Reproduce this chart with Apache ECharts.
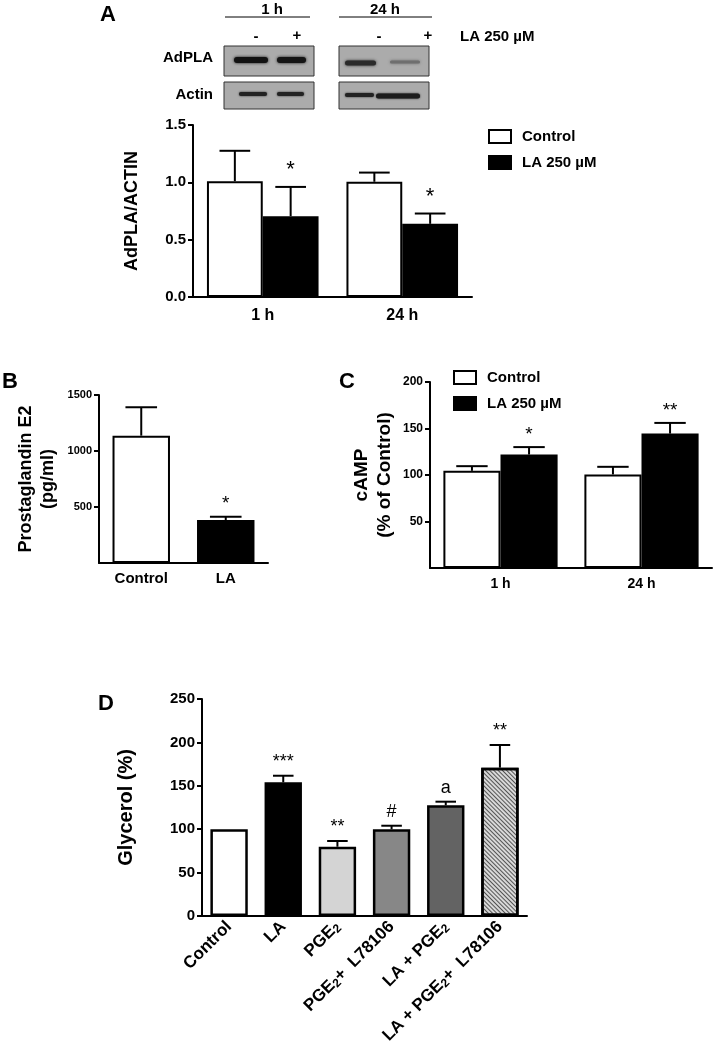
<!DOCTYPE html>
<html><head><meta charset="utf-8">
<script src="https://cdn.jsdelivr.net/npm/echarts@6/dist/echarts.min.js"></script>
<style>html,body{margin:0;padding:0;background:#fff}#c{width:714px;height:1052px}</style>
</head><body><div id="c"></div>
<script>
// ---------- Panel A ----------
const aCategories = ['1 h', '24 h'];
const aControl = [1.01, 1.005];
const aControlErr = [1.275, 1.085];
const aLA = [0.705, 0.638];
const aLAErr = [0.96, 0.728];
const aLAMarks = ['*', '*'];
// ---------- Panel B ----------
const bCategories = ['Control', 'LA'];
const bValues = [1137, 384];
const bErr = [1390, 413];
const bMarks = ['', '*'];
// ---------- Panel C ----------
const cCategories = ['1 h', '24 h'];
const cControl = [104.5, 100.6];
const cControlErr = [109.5, 108.8];
const cLA = [122, 144.5];
const cLAErr = [130, 156];
const cLAMarks = ['*', '**'];
// ---------- Panel D ----------
const dCategories = ['Control', 'LA', 'PGE{sub|2}', 'PGE{sub|2}+  L78106', 'LA + PGE{sub|2}', 'LA + PGE{sub|2}+  L78106'];
const dValues = [100, 154, 79.8, 99.9, 127.5, 170.9];
const dErr = [100, 161.6, 86.4, 104, 131.7, 197];
const dMarks = ['', '***', '**', '#', 'a', '**'];
const dColors = ['#ffffff', '#000000', '#d4d4d4', '#878787', '#636363', '#d8d8d8'];

const FONT = 'Liberation Sans, Arial, sans-serif';
const chart = echarts.init(document.getElementById('c'));

function errSeries(gi, vals, errs, marks, idx, n, gap, markGap, markSize) {
  return {
    type: 'custom', xAxisIndex: gi, yAxisIndex: gi, z: 5, silent: true,
    data: vals.map((v, i) => [i, v, errs[i]]),
    renderItem(params, api) {
      const i = api.value(0);
      const catW = api.size([1, 0])[0];
      const barW = catW * (1 - gap) / n;
      const base = api.coord([i, api.value(1)]);
      const top = api.coord([i, api.value(2)]);
      const cx = base[0] + (idx - (n - 1) / 2) * barW;
      const capW = barW * 0.55;
      const ch = [];
      if (api.value(2) > api.value(1)) {
        ch.push({type: 'line', shape: {x1: cx, y1: base[1], x2: cx, y2: top[1]}, style: {stroke: '#000', lineWidth: 2}});
        ch.push({type: 'line', shape: {x1: cx - capW / 2, y1: top[1], x2: cx + capW / 2, y2: top[1]}, style: {stroke: '#000', lineWidth: 2}});
      }
      const m = marks[params.dataIndex];
      if (m) ch.push({type: 'text', x: cx, y: top[1] - markGap, style: {text: m, fontSize: markSize, fontFamily: FONT, fill: '#000', align: 'center', verticalAlign: 'bottom'}});
      return {type: 'group', children: ch};
    }
  };
}

function yAxis(gi, max, interval, fs, name, gap, nfs, showMin, fmt) {
  return {
    type: 'value', gridIndex: gi, min: 0, max: max, interval: interval,
    axisLine: {show: true, lineStyle: {color: '#000', width: 2}},
    axisTick: {show: true, length: 5, lineStyle: {color: '#000', width: 2}},
    splitLine: {show: false},
    axisLabel: {color: '#000', fontSize: fs, fontWeight: 'bold', fontFamily: FONT, margin: 7, showMinLabel: showMin, formatter: fmt || (v => String(v))},
    name: name, nameLocation: 'middle', nameGap: gap,
    nameTextStyle: {color: '#000', fontSize: nfs, fontWeight: 'bold', fontFamily: FONT, lineHeight: nfs + 4}
  };
}
function xAxis(gi, cats, fs, margin, extra) {
  return Object.assign({
    type: 'category', gridIndex: gi, data: cats,
    axisLine: {show: true, lineStyle: {color: '#000', width: 2}},
    axisTick: {show: false},
    axisLabel: {color: '#000', fontSize: fs, fontWeight: 'bold', fontFamily: FONT, margin: margin, interval: 0}
  }, extra || {});
}

const barBase = {type: 'bar', itemStyle: {borderColor: '#000', borderWidth: 2}};

// blot graphics
const blotG = [];
function box(x, y, w, h) { blotG.push({type: 'rect', shape: {x, y, width: w, height: h}, style: {fill: '#ababab', stroke: '#333', lineWidth: 1}}); }
function band(x, y, w, h, c, blur) { blotG.push({type: 'rect', shape: {x, y: y - h / 2, width: w, height: h, r: h / 2}, style: {fill: c, shadowBlur: blur, shadowColor: c}}); }
box(224, 46, 90, 30); box(339, 46, 90, 30);
box(224, 82, 90, 27); box(339, 82, 90, 27);
band(234, 60, 34, 6, '#111', 3); band(277, 60, 29, 6, '#151515', 3);
band(345, 63, 31, 5, '#2a2a2a', 3); band(390, 62, 30, 3, '#6e6e6e', 3);
band(239, 94, 28, 4, '#222', 2); band(277, 94, 27, 4, '#222', 2);
band(345, 95, 29, 4, '#222', 2); band(376, 96, 44, 5, '#1c1c1c', 2);

function txt(x, y, t, fs, align) {
  return {type: 'text', x, y, style: {text: t, fontSize: fs, fontWeight: 'bold', fontFamily: FONT, fill: '#000', align: align || 'center', verticalAlign: 'middle'}};
}
const graphics = blotG.concat([
  txt(108, 15, 'A', 22), txt(10, 382, 'B', 22), txt(347, 382, 'C', 22), txt(106, 704, 'D', 22),
  txt(272, 10, '1 h', 15), txt(385, 10, '24 h', 15),
  {type: 'line', shape: {x1: 225, y1: 17, x2: 310, y2: 17}, style: {stroke: '#000', lineWidth: 1}},
  {type: 'line', shape: {x1: 339, y1: 17, x2: 432, y2: 17}, style: {stroke: '#000', lineWidth: 1}},
  txt(256, 37, '-', 15), txt(297, 36, '+', 15), txt(379, 37, '-', 15), txt(428, 36, '+', 15),
  txt(460, 37, 'LA 250 µM', 15, 'left'),
  txt(213, 58, 'AdPLA', 15, 'right'), txt(213, 95, 'Actin', 15, 'right')
]);

const legendCommon = {
  orient: 'vertical', icon: 'rect', itemWidth: 22, itemHeight: 13, itemGap: 11, padding: 0,
  itemStyle: {borderColor: '#000', borderWidth: 2},
  textStyle: {color: '#000', fontSize: 15, fontWeight: 'bold', fontFamily: FONT, padding: [0, 0, 0, 6]},
  selectedMode: false
};

chart.setOption({
  animation: false,
  backgroundColor: '#fff',
  graphic: graphics,
  legend: [
    Object.assign({left: 488, top: 129, data: ['Control', 'LA 250 µM']}, legendCommon),
    Object.assign({left: 453, top: 370, data: ['Control', 'LA 250 µM']}, legendCommon)
  ],
  grid: [
    {left: 193, top: 125, width: 279, height: 172},
    {left: 99, top: 395, width: 169, height: 168},
    {left: 430, top: 382, width: 282, height: 186},
    {left: 202, top: 699, width: 325, height: 217}
  ],
  xAxis: [
    xAxis(0, aCategories, 16, 11),
    xAxis(1, bCategories, 15, 8),
    xAxis(2, cCategories, 14, 9),
    xAxis(3, dCategories, 17, 8, {axisLabel: {color: '#000', fontSize: 17, fontWeight: 'bold', fontFamily: FONT, margin: 8, interval: 0, rotate: 45,
      rich: {sub: {fontSize: 12, fontWeight: 'bold', fontFamily: FONT, padding: [7, 0, 0, 0]}}}})
  ],
  yAxis: [
    yAxis(0, 1.5, 0.5, 15, 'AdPLA/ACTIN', 50, 18, true, v => v.toFixed(1)),
    yAxis(1, 1500, 500, 11, 'Prostaglandin E2\n(pg/ml)', 40, 18, false),
    yAxis(2, 200, 50, 12, 'cAMP\n(% of Control)', 34, 19, false),
    yAxis(3, 250, 50, 15, 'Glycerol (%)', 64, 20, true)
  ],
  series: [
    Object.assign({}, barBase, {name: 'Control', xAxisIndex: 0, yAxisIndex: 0, data: aControl, barGap: '0%', barCategoryGap: '20%', itemStyle: {color: '#fff', borderColor: '#000', borderWidth: 2}}),
    Object.assign({}, barBase, {name: 'LA 250 µM', xAxisIndex: 0, yAxisIndex: 0, data: aLA, barGap: '0%', barCategoryGap: '20%', itemStyle: {color: '#000', borderColor: '#000', borderWidth: 2}}),
    errSeries(0, aControl, aControlErr, ['', ''], 0, 2, 0.2, 8, 22),
    errSeries(0, aLA, aLAErr, aLAMarks, 1, 2, 0.2, 6, 22),

    Object.assign({}, barBase, {name: 'B', xAxisIndex: 1, yAxisIndex: 1, barCategoryGap: '32%',
      data: bValues.map((v, i) => ({value: v, itemStyle: {color: i === 0 ? '#fff' : '#000', borderColor: '#000', borderWidth: 2}}))}),
    errSeries(1, bValues, bErr, bMarks, 0, 1, 0.32, 3, 19),

    Object.assign({}, barBase, {name: 'Control', xAxisIndex: 2, yAxisIndex: 2, data: cControl, barGap: '0%', barCategoryGap: '19%', itemStyle: {color: '#fff', borderColor: '#000', borderWidth: 2}}),
    Object.assign({}, barBase, {name: 'LA 250 µM', xAxisIndex: 2, yAxisIndex: 2, data: cLA, barGap: '0%', barCategoryGap: '19%', itemStyle: {color: '#000', borderColor: '#000', borderWidth: 2}}),
    errSeries(2, cControl, cControlErr, ['', ''], 0, 2, 0.19, 4, 19),
    errSeries(2, cLA, cLAErr, cLAMarks, 1, 2, 0.19, 3, 19),

    Object.assign({}, barBase, {name: 'D', xAxisIndex: 3, yAxisIndex: 3, barCategoryGap: '31%',
      data: dValues.map((v, i) => ({value: v, itemStyle: Object.assign({color: dColors[i], borderColor: '#000', borderWidth: 2.5},
        i === 5 ? {decal: {symbol: 'rect', symbolSize: 1, color: 'rgba(40,40,40,0.75)', dashArrayX: [1, 0], dashArrayY: [1, 2], rotation: Math.PI / 4}} : {})}))}),
    errSeries(3, dValues, dErr, dMarks, 0, 1, 0.31, 5, 18)
  ]
});
</script></body></html>
